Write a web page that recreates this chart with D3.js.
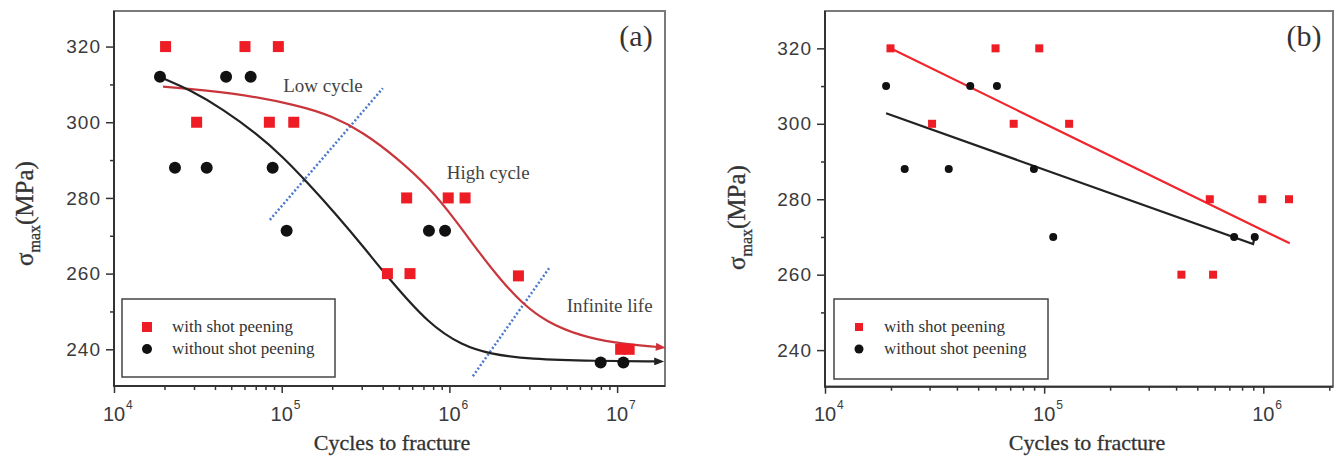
<!DOCTYPE html>
<html>
<head>
<meta charset="utf-8">
<title>S-N curves, with and without shot peening</title>
<script src="https://d3js.org/d3.v7.min.js"></script>
<style>
  body { margin: 0; background: #fff; }
  svg { display: block; }
  .tlab { font-family: "Liberation Sans", Arial, sans-serif; fill: #3a3a3a; }
  .serif { font-family: "Liberation Serif", "Times New Roman", serif; fill: #333; }
  .tick line { stroke: #333; stroke-width: 1.5; }
</style>
</head>
<body>
<script>
// ---- panel (a) ----
const aRedX = [2.03e4, 6.04e4, 9.55e4, 3.11e4, 8.44e4, 1.18e5, 5.56e5, 9.84e5, 1.24e6, 4.27e5, 5.82e5, 2.58e6, 1.05e7, 1.18e7];
const aRedY = [320, 320, 320, 300, 300, 300, 280, 280, 280, 260, 260, 259.4, 240, 240];
const aBlackX = [1.88e4, 4.66e4, 6.53e4, 2.31e4, 3.57e4, 8.83e4, 1.07e5, 7.55e5, 9.42e5, 7.98e6, 1.09e7];
const aBlackY = [312, 312, 312, 288, 288, 288, 271.3, 271.3, 271.3, 236.5, 236.5];
// fitted curves [cycles, MPa]
const aRedCurve = [[1.96e4, 309.4], [5.1e4, 307.9], [1.28e5, 304.4], [2.0e5, 301.6], [3.05e5, 297.4], [4.87e5, 290.6],
  [7.66e5, 282.6], [1.1e6, 273.8], [1.52e6, 265.3], [2.0e6, 258.6], [2.7e6, 252.2], [3.8e6, 247.2],
  [6.0e6, 243.6], [9.5e6, 241.7], [1.75e7, 240.6]];
const aBlackCurve = [[1.96e4, 311.6], [2.83e4, 308.6], [4.48e4, 303.4], [7.07e4, 297.0], [1.02e5, 290.8],
  [1.40e5, 284.4], [2.12e5, 275.6], [3.19e5, 266.2], [4.22e5, 259.4], [7.6e5, 246.4], [1.2e6, 241.0], [1.73e6, 238.8],
  [2.99e6, 237.4], [7.5e6, 236.9], [1.71e7, 236.8]];
const aGuideLow = [[8.5e4, 274.2], [4.01e5, 309.0]];
const aGuideInf = [[1.38e6, 232.9], [3.94e6, 261.5]];
const aNotes = [["Low cycle", 1.02e5, 308], ["High cycle", 9.64e5, 285], ["Infinite life", 5.0e6, 249.9]];

// ---- panel (b) ----
const bRedX = [1.99e4, 6.0e4, 9.5e4, 3.08e4, 7.26e4, 1.30e5, 5.7e5, 9.9e5, 1.31e6, 4.23e5, 5.9e5];
const bRedY = [320, 320, 320, 300, 300, 300, 280, 280, 280, 260, 260];
const bBlackX = [1.9e4, 4.6e4, 6.09e4, 2.31e4, 3.67e4, 8.98e4, 1.1e5, 7.36e5, 9.14e5];
const bBlackY = [310, 310, 310, 288, 288, 288, 270, 270, 270];
const bRedFit = [[1.99e4, 320], [1.32e6, 268.3]];
const bBlackFit = [[1.9e4, 302.8], [8.98e5, 268.1], [9.14e5, 270]];

const yMajor = [240, 260, 280, 300, 320];
const yMinor = [250, 270, 290, 310];
const legendLabels = ["with shot peening", "without shot peening"];
const xTitle = "Cycles to fracture";

const red = "#ee1c25", black = "#111";

const svg = d3.select("body").append("svg")
  .attr("width", 1336)
  .attr("height", 457);

const defs = svg.append("defs");
[["arrRed", "#d0303a"], ["arrBlack", "#222"]].forEach(([id, c]) => {
  defs.append("marker")
    .attr("id", id)
    .attr("viewBox", "0 0 10 8")
    .attr("refX", 2).attr("refY", 4)
    .attr("markerUnits", "userSpaceOnUse")
    .attr("markerWidth", 11).attr("markerHeight", 8)
    .attr("orient", "auto")
    .append("path").attr("d", "M0,0 L10,4 L0,8 Z").style("fill", c);
});

function drawPanel(p) {
  const x = d3.scaleLog().domain(p.xDomain).range(p.xRange);
  const y = d3.scaleLinear().domain(p.yDomain).range(p.yRange);
  const g = svg.append("g");
  const L = p.xRange[0], R = p.xRange[1], T = p.yRange[1], B = p.yRange[0];

  // frame
  g.append("rect")
    .attr("x", L).attr("y", T)
    .attr("width", R - L).attr("height", B - T)
    .style("fill", "none").style("stroke", "#7a7a7a").style("stroke-width", 2);
  g.append("path")
    .attr("d", `M${L},${T} L${L},${B} L${R},${B}`)
    .style("fill", "none").style("stroke", "#333").style("stroke-width", 2);

  // y axis
  const yAx = g.append("g").attr("transform", `translate(${L},0)`)
    .call(d3.axisLeft(y).tickValues(yMajor).tickSize(8).tickPadding(5).tickFormat(d3.format("d")));
  yAx.select(".domain").remove();
  yAx.selectAll("text").attr("class", "tlab").style("font-size", "19px").style("letter-spacing", "1px").attr("fill", null);
  const yAx2 = g.append("g").attr("transform", `translate(${L},0)`)
    .call(d3.axisLeft(y).tickValues(yMinor).tickSize(4).tickFormat(""));
  yAx2.select(".domain").remove();

  // x axis (log)
  const decades = d3.range(4, 8).map(e => Math.pow(10, e)).filter(v => v <= p.xDomain[1]);
  const minors = [];
  decades.forEach(d => d3.range(2, 10).forEach(k => { if (d * k <= p.xDomain[1]) minors.push(d * k); }));
  const xAx = g.append("g").attr("transform", `translate(0,${B})`)
    .call(d3.axisBottom(x).tickValues(decades).tickSize(7).tickFormat(""));
  xAx.select(".domain").remove();
  const xAx2 = g.append("g").attr("transform", `translate(0,${B})`)
    .call(d3.axisBottom(x).tickValues(minors).tickSize(4).tickFormat(""));
  xAx2.select(".domain").remove();
  decades.forEach(v => {
    g.append("text").attr("class", "tlab")
      .attr("x", x(v)).attr("y", 421)
      .attr("text-anchor", "middle")
      .style("font-size", "20px")
      .text("10");
    g.append("text").attr("class", "tlab")
      .attr("x", x(v) + 12).attr("y", 409)
      .style("font-size", "12px")
      .text(Math.round(Math.log10(v)));
  });

  // axis titles
  g.append("text").attr("class", "serif")
    .attr("x", p.xTitleX).attr("y", 450)
    .attr("text-anchor", "middle")
    .style("font-size", "22px")
    .style("stroke", "#333").style("stroke-width", 0.3)
    .text(xTitle);
  const yt = g.append("text").attr("class", "serif")
    .attr("transform", `translate(${p.yTitleX},${p.yTitleY}) rotate(-90)`)
    .style("font-size", "25px")
    .style("stroke", "#333").style("stroke-width", 0.3);
  yt.append("tspan").text("σ");
  yt.append("tspan").attr("dy", 7).style("font-size", "16px").text("max");
  yt.append("tspan").attr("dy", -7).text("(MPa)");

  // panel tag
  g.append("text").attr("class", "serif")
    .attr("x", p.tagX).attr("y", 46)
    .attr("text-anchor", "middle")
    .style("font-size", "30px")
    .text(p.tag);

  const line = d3.line().x(d => x(d[0])).y(d => y(d[1]));

  // guides and notes
  (p.guides || []).forEach(gd => {
    g.append("path").attr("d", line(gd))
      .style("fill", "none").style("stroke", "#4a78cc")
      .style("stroke-width", 2.5).style("stroke-dasharray", "2,2.2");
  });
  (p.notes || []).forEach(n => {
    g.append("text").attr("class", "serif")
      .attr("x", x(n[1])).attr("y", y(n[2]))
      .style("font-size", "19px").style("fill", "#444")
      .text(n[0]);
  });

  // fit lines
  p.fits.forEach(f => {
    const pth = g.append("path")
      .attr("d", line.curve(f.smooth ? d3.curveBasis : d3.curveLinear)(f.pts))
      .style("fill", "none").style("stroke", f.color).style("stroke-width", 2.2);
    if (f.arrow) pth.attr("marker-end", `url(#${f.arrow})`);
  });

  // points
  const s = p.sq;
  g.selectAll(null).data(d3.zip(p.redX, p.redY)).join("rect")
    .attr("x", d => x(d[0]) - s / 2).attr("y", d => y(d[1]) - s / 2)
    .attr("width", s).attr("height", s)
    .style("fill", red);
  g.selectAll(null).data(d3.zip(p.blackX, p.blackY)).join("circle")
    .attr("cx", d => x(d[0])).attr("cy", d => y(d[1]))
    .attr("r", p.r)
    .style("fill", black);

  // legend
  const lg = p.legend;
  g.append("rect")
    .attr("x", lg.x).attr("y", lg.y).attr("width", lg.w).attr("height", lg.h)
    .style("fill", "#fff").style("stroke", "#444").style("stroke-width", 1.5);
  g.append("rect")
    .attr("x", lg.x + 25 - lg.s / 2).attr("y", lg.y + 28 - lg.s / 2)
    .attr("width", lg.s).attr("height", lg.s).style("fill", red);
  g.append("circle")
    .attr("cx", lg.x + 25).attr("cy", lg.y + 50).attr("r", lg.r).style("fill", black);
  legendLabels.forEach((t, i) => {
    g.append("text").attr("class", "serif")
      .attr("x", lg.x + 50).attr("y", lg.y + 33 + i * 22)
      .style("font-size", "17px")
      .text(t);
  });
}

drawPanel({
  tag: "(a)", tagX: 636,
  xDomain: [1e4, 1.93e7], xRange: [114, 665],
  yDomain: [230.3, 329.4], yRange: [386, 11],
  xTitleX: 392, yTitleX: 33, yTitleY: 266,
  redX: aRedX, redY: aRedY, blackX: aBlackX, blackY: aBlackY,
  sq: 11, r: 6,
  fits: [
    { pts: aRedCurve, color: "#c8363b", smooth: true, arrow: "arrRed" },
    { pts: aBlackCurve, color: "#222", smooth: true, arrow: "arrBlack" }
  ],
  guides: [aGuideLow, aGuideInf],
  notes: aNotes,
  legend: { x: 122, y: 299, w: 213, h: 78, s: 10, r: 5 }
});

drawPanel({
  tag: "(b)", tagX: 1304,
  xDomain: [1e4, 2.08e6], xRange: [825, 1333],
  yDomain: [230.3, 329.9], yRange: [386.7, 11],
  xTitleX: 1087, yTitleX: 745, yTitleY: 270,
  redX: bRedX, redY: bRedY, blackX: bBlackX, blackY: bBlackY,
  sq: 8, r: 4,
  fits: [
    { pts: bRedFit, color: "#f0262c", smooth: false },
    { pts: bBlackFit, color: "#222", smooth: false }
  ],
  legend: { x: 834, y: 299, w: 214, h: 80, s: 8, r: 4.5 }
});
</script>
</body>
</html>
